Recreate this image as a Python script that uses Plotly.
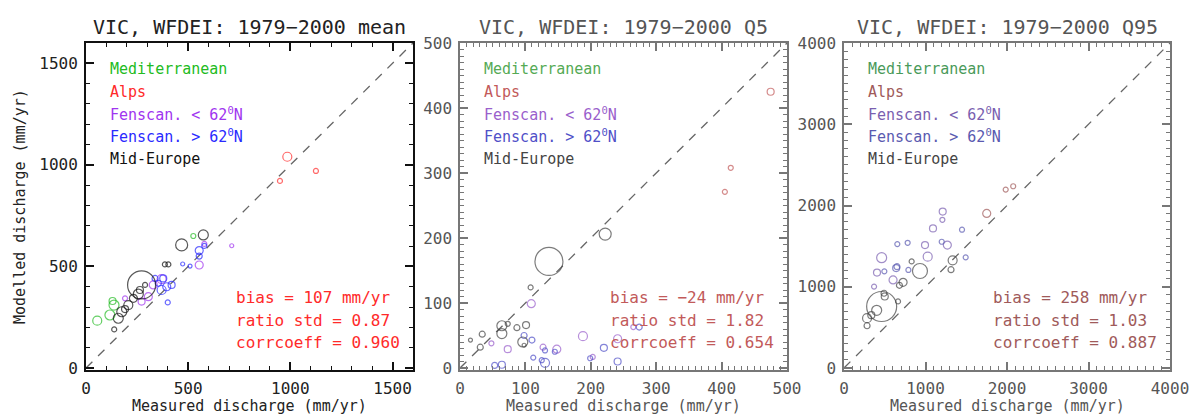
import plotly.graph_objects as go

# ---------------- data ----------------
regions = ["Mediterranean", "Alps", "Fenscan. < 62<sup>0</sup>N", "Fenscan. > 62<sup>0</sup>N", "Mid-Europe"]
region_keys = ["med", "alps", "fs_lo", "fs_hi", "mid"]

# Panel 1: mean
mean_x = [55, 117, 137, 130, 525,
          985, 949, 1125,
          713, 554, 579, 370, 329, 305, 272, 191,
          400, 419, 395, 370, 378, 338, 473, 509, 554, 554, 579, 354,
          272, 468, 574, 138, 386, 403, 158, 175, 207, 232, 264, 289, 256, 191]
mean_y = [233, 261, 310, 330, 650,
          1040, 921, 970,
          602, 507, 611, 438, 409, 351, 327, 343,
          323, 409, 400, 384, 441, 441, 512, 502, 578, 551, 601, 417,
          409, 606, 655, 190, 510, 510, 245, 277, 310, 343, 384, 409, 364, 290]
mean_size = [9, 10, 10, 7, 5,
             9, 5, 5,
             4, 8, 5, 9, 8, 8, 7, 5,
             5, 7, 8, 9, 7, 6, 4, 4, 8, 6, 5, 6,
             28, 12, 10, 5, 5, 5, 10, 10, 9, 8, 7, 5, 10, 7]
mean_region = ["med"] * 5 + ["alps"] * 3 + ["fs_lo"] * 8 + ["fs_hi"] * 12 + ["mid"] * 14

# Panel 2: Q5
q5_x = [475, 414, 405,
        109, 188, 73, 48, 127, 148, 241, 265, 203,
        274, 220, 241, 199, 130, 110, 98, 112, 130, 53, 64, 125, 145,
        136, 222, 108, 64, 64, 73, 87, 101, 96, 98, 34, 31, 16]
q5_y = [425, 308, 271,
        99, 49, 29, 38, 32, 29, 45, 63, 17,
        63, 31, 10, 15, 8, 43, 50, 16, 27, 4, 5, 12, 25,
        164, 206, 124, 65, 53, 68, 62, 66, 40, 35, 52, 32, 43]
q5_size = [7, 5, 5,
           8, 9, 7, 5, 6, 8, 8, 5, 5,
           6, 7, 7, 5, 9, 6, 6, 5, 5, 6, 7, 5, 5,
           28, 12, 5, 10, 10, 5, 6, 7, 10, 4, 6, 6, 4]
q5_region = ["alps"] * 3 + ["fs_lo"] * 9 + ["fs_hi"] * 13 + ["mid"] * 13

# Panel 3: Q95
q95_x = [1984, 2076, 1751,
         1211, 1207, 1092, 994, 462, 1027, 602, 405, 369, 1268,
         1448, 781, 654, 1199, 1493, 650, 495, 790, 640,
         462, 932, 283, 401, 491, 725, 680, 830, 1333, 1313, 663, 283, 335, 500]
q95_y = [2196, 2237, 1902,
         1925, 1824, 1718, 1513, 1358, 1370, 1084, 1174, 1002, 1513,
         1702, 1541, 1525, 1554, 1362, 1247, 1190, 1207, 1230,
         757, 1194, 613, 710, 920, 1055, 1018, 1312, 1325, 1210, 820, 520, 650, 880]
q95_size = [5, 5, 8,
            7, 5, 7, 7, 10, 9, 8, 7, 5, 8,
            5, 5, 5, 5, 5, 6, 5, 5, 7,
            30, 15, 9, 10, 6, 8, 6, 5, 9, 6, 5, 6, 7, 7]
q95_region = ["alps"] * 3 + ["fs_lo"] * 10 + ["fs_hi"] * 9 + ["mid"] * 14

titles = ["VIC, WFDEI: 1979\u22122000 mean", "VIC, WFDEI: 1979\u22122000 Q5", "VIC, WFDEI: 1979\u22122000 Q95"]
stats = [["bias = 107 mm/yr", "ratio std = 0.87", "corrcoeff = 0.960"],
         ["bias = \u221224 mm/yr", "ratio std = 1.82", "corrcoeff = 0.654"],
         ["bias = 258 mm/yr", "ratio std = 1.03", "corrcoeff = 0.887"]]
ranges = [1600, 500, 4000]
tick_vals = [[0, 500, 1000, 1500], [0, 100, 200, 300, 400, 500], [0, 1000, 2000, 3000, 4000]]
minor_dt = [100, 10, 100]

# ---------------- styles ----------------
W, H = 1194, 417
FONT = "DejaVu Sans Mono"
box_px = [(86, 413), (460, 787), (844, 1170)]
top_px, bot_px = 43, 370
palettes = [
    {"med": "#22bb22", "alps": "#ff2a2a", "fs_lo": "#a035f0", "fs_hi": "#2a2aff", "mid": "#111111"},
    {"med": "#55aa55", "alps": "#c25a5a", "fs_lo": "#9a5fcc", "fs_hi": "#5050c8", "mid": "#444444"},
    {"med": "#4a9a5a", "alps": "#a05a5a", "fs_lo": "#7a5fb0", "fs_hi": "#5a5ab0", "mid": "#444444"},
]
axis_col = ["#111111", "#777777", "#777777"]
text_col = ["#222222", "#555555", "#555555"]
stat_col = ["#ff2a2a", "#c25a5a", "#a05a5a"]

fig = go.Figure()
datasets = [(mean_x, mean_y, mean_size, mean_region),
            (q5_x, q5_y, q5_size, q5_region),
            (q95_x, q95_y, q95_size, q95_region)]

layout_axes = {}
annotations = []
for i in range(3):
    xa = "x" if i == 0 else f"x{i+1}"
    ya = "y" if i == 0 else f"y{i+1}"
    xs, ys, ss, rs = datasets[i]
    pal = palettes[i]
    # 1:1 line
    fig.add_trace(go.Scatter(x=[0, ranges[i]], y=[0, ranges[i]], mode="lines",
                             line=dict(color="#666666", width=1.3, dash="9px,8px"),
                             xaxis=xa, yaxis=ya, showlegend=False, hoverinfo="skip"))
    for key in region_keys:
        idx = [k for k, r in enumerate(rs) if r == key]
        if not idx:
            continue
        fig.add_trace(go.Scatter(
            x=[xs[k] for k in idx], y=[ys[k] for k in idx], mode="markers",
            marker=dict(symbol="circle-open", size=[ss[k] for k in idx],
                        color=pal[key], line=dict(width=1.2, color=pal[key])),
            xaxis=xa, yaxis=ya, showlegend=False, hoverinfo="skip"))

    x0, x1 = box_px[i]
    lw = 2 if i == 0 else 1.5
    common = dict(showline=True, linewidth=lw, linecolor=axis_col[i], mirror="ticks",
                  ticks="inside", ticklen=8, tickwidth=lw, tickcolor=axis_col[i],
                  showgrid=False, zeroline=False,
                  tickfont=dict(family=FONT, size=16, color=text_col[i]),
                  tickvals=tick_vals[i], automargin=False,
                  minor=dict(ticks="inside", ticklen=4, dtick=minor_dt[i],
                             tickcolor=axis_col[i], tickwidth=1, showgrid=False))
    layout_axes["xaxis" if i == 0 else f"xaxis{i+1}"] = dict(
        domain=[x0 / W, x1 / W], range=[0, ranges[i]], anchor=ya,
        ticklabelstandoff=3, **common)
    ypad = ranges[i] * 2 / (bot_px - top_px)
    layout_axes["yaxis" if i == 0 else f"yaxis{i+1}"] = dict(
        domain=[1 - bot_px / H, 1 - top_px / H], range=[-ypad, ranges[i]], anchor=xa,
        ticklabelstandoff=3, **common)

    cx = (x0 + x1) / 2 / W
    annotations.append(dict(text=titles[i], x=cx, y=1 - 27 / H, xref="paper", yref="paper",
                            showarrow=False, xanchor="center", yanchor="middle",
                            font=dict(family=FONT, size=20, color=text_col[i])))
    annotations.append(dict(text="Measured discharge (mm/yr)", x=cx, y=0.0,
                            xref="paper", yref="paper", showarrow=False,
                            xanchor="center", yanchor="bottom",
                            font=dict(family=FONT, size=15, color=text_col[i])))
    dref_x = ("x" if i == 0 else f"x{i+1}") + " domain"
    dref_y = ("y" if i == 0 else f"y{i+1}") + " domain"
    leg_y = [69, 92, 114, 136, 159]
    for name, key, py in zip(regions, region_keys, leg_y):
        annotations.append(dict(text=name, x=0.067, y=(bot_px - py) / (bot_px - top_px),
                                xref=dref_x, yref=dref_y, showarrow=False,
                                xanchor="left", yanchor="middle",
                                font=dict(family=FONT, size=15, color=pal[key])))
    for s, py in zip(stats[i], [297, 320, 342]):
        annotations.append(dict(text=s, x=0.452, y=(bot_px - py) / (bot_px - top_px),
                                xref=dref_x, yref=dref_y, showarrow=False,
                                xanchor="left", yanchor="middle",
                                font=dict(family=FONT, size=16, color=stat_col[i])))

annotations.append(dict(text="Modelled discharge (mm/yr)", x=20 / W, y=1 - 207 / H,
                        xref="paper", yref="paper", showarrow=False, textangle=-90,
                        xanchor="center", yanchor="middle",
                        font=dict(family=FONT, size=15, color="#222222")))

fig.update_layout(width=W, height=H, margin=dict(l=0, r=0, t=0, b=0),
                  paper_bgcolor="white", plot_bgcolor="white",
                  annotations=annotations, **layout_axes)
fig.write_html("out.html")
